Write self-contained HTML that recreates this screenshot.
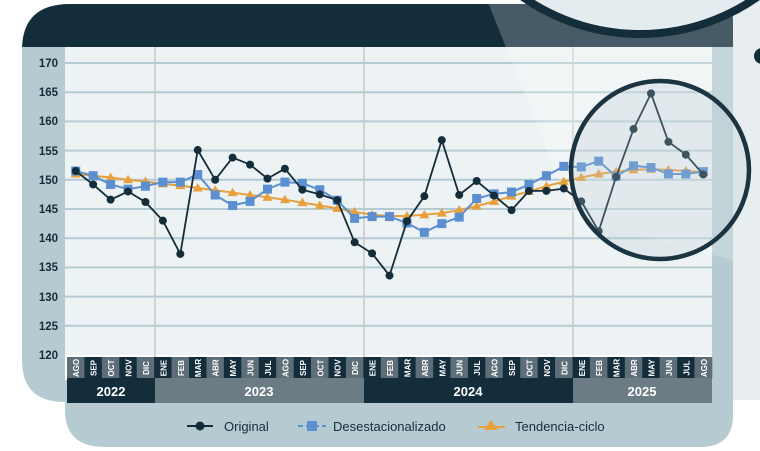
<!DOCTYPE html>
<html><head><meta charset="utf-8"><style>
html,body{margin:0;padding:0;background:#fff;}
svg{display:block;font-family:"Liberation Sans",sans-serif;}
</style></head><body>
<svg width="760" height="451" viewBox="0 0 760 451" xmlns="http://www.w3.org/2000/svg">
<rect x="733" y="0" width="27" height="400" fill="#e8eef0"/>
<path d="M22 402 V50 Q22 4 70 4 H718 Q733 4 733 20 V47 H22 Z" fill="#142d3b"/>
<path d="M22 47 H712 V355 H65 V402 Q22 402 22 360 Z" fill="#b5cbd1"/>
<path d="M65 380 H733 V415 Q733 447 700 447 H105 Q65 447 65 410 Z" fill="#b5cbd1"/>
<rect x="712" y="47" width="21" height="373" fill="#b5cbd1"/>
<rect x="65" y="47" width="647" height="308" fill="#edf2f4"/>
<g stroke="#b5cbd1" stroke-width="2">
<line x1="65" x2="712" y1="63" y2="63"/><line x1="65" x2="712" y1="92.2" y2="92.2"/>
<line x1="65" x2="712" y1="121.4" y2="121.4"/><line x1="65" x2="712" y1="150.6" y2="150.6"/>
<line x1="65" x2="712" y1="179.8" y2="179.8"/><line x1="65" x2="712" y1="209" y2="209"/>
<line x1="65" x2="712" y1="238.2" y2="238.2"/><line x1="65" x2="712" y1="267.4" y2="267.4"/>
<line x1="65" x2="712" y1="296.6" y2="296.6"/><line x1="65" x2="712" y1="325.8" y2="325.8"/>
</g>
<g stroke="#c9c9c9" stroke-width="1.5">
<line x1="155" x2="155" y1="47" y2="357"/><line x1="364" x2="364" y1="47" y2="357"/><line x1="573" x2="573" y1="47" y2="357"/>
</g>
<polygon points="487,0 733,0 733,260 575,220" fill="#ffffff" opacity="0.22"/>
<g font-size="11.5" font-weight="bold" fill="#142d3b" text-anchor="end">
<text x="58" y="67">170</text><text x="58" y="96">165</text><text x="58" y="125">160</text>
<text x="58" y="155">155</text><text x="58" y="184">150</text><text x="58" y="213">145</text>
<text x="58" y="242">140</text><text x="58" y="271">135</text><text x="58" y="301">130</text>
<text x="58" y="330">125</text><text x="58" y="359">120</text>
</g>
<rect x="67" y="378" width="88" height="25" fill="#142d3b"/>
<rect x="155" y="378" width="209" height="25" fill="#6b7c85"/>
<rect x="364" y="378" width="209" height="25" fill="#142d3b"/>
<rect x="573" y="378" width="139" height="25" fill="#6b7c85"/>
<g font-size="13" font-weight="bold" fill="#fff" text-anchor="middle">
<text x="111" y="396">2022</text><text x="259" y="396">2023</text><text x="468" y="396">2024</text><text x="642" y="396">2025</text>
</g>
<g id="months"></g>
<g font-size="13" fill="#142d3b">
<line x1="187" x2="213" y1="426" y2="426" stroke="#142d3b" stroke-width="2"/><circle cx="200" cy="426" r="4.5" fill="#142d3b"/>
<text x="224" y="431">Original</text>
<line x1="298" x2="326" y1="426" y2="426" stroke="#5b8fd0" stroke-width="2" stroke-dasharray="5,3"/><rect x="307" y="421" width="10" height="10" fill="#5b8fd0"/>
<text x="333" y="431">Desestacionalizado</text>
<line x1="478" x2="505" y1="427" y2="427" stroke="#e8a03c" stroke-width="2"/><polygon points="491,420 498,430 484,430" fill="#e8a03c"/>
<text x="515" y="431">Tendencia-ciclo</text>
</g>
<g id="series"></g>
<circle cx="660" cy="170" r="89" fill="#b8c9cf" opacity="0.25"/>
<circle cx="660" cy="170" r="89" fill="none" stroke="#1c3441" stroke-width="4.5"/>
<circle cx="640" cy="-170" r="204" fill="#e3ecef" stroke="#142d3b" stroke-width="8"/>
<circle cx="762" cy="56" r="8" fill="#142d3b"/>
</svg>
<script>
const mo=["AGO","SEP","OCT","NOV","DIC"];
const all=["ENE","FEB","MAR","ABR","MAY","JUN","JUL","AGO","SEP","OCT","NOV","DIC"];
let labs=mo.concat(all,all,all.slice(0,8));
const W=645/37, X=i=>67+W*(i+0.5), Y=v=>355-(v-120)*5.84;
let h="";
labs.forEach((m,i)=>{let x=67+W*i;let c=i%2?"#142d3b":"#5e6e78";
h+=`<rect x="${x}" y="357" width="${W+0.3}" height="21" fill="${c}"/><text transform="translate(${X(i)+3.5},368) rotate(-90)" text-anchor="middle" font-size="8" font-weight="bold" fill="#fff">${m}</text>`;});
document.getElementById("months").innerHTML=h;
const o=[151.5,149.2,146.6,148,146.2,143,137.3,155.1,150,153.8,152.6,150.2,151.9,148.3,147.5,146.5,139.3,137.4,133.6,142.9,147.2,156.8,147.4,149.8,147.3,144.8,148.1,148.1,148.5,146.3,141.2,150.5,158.7,164.8,156.5,154.3,150.9];
const d=[151.5,150.7,149.2,148.4,148.9,149.6,149.6,150.9,147.4,145.6,146.3,148.4,149.6,149.4,148.3,146.5,143.4,143.7,143.7,142.6,141,142.5,143.6,146.8,147.6,147.9,149.2,150.7,152.3,152.2,153.2,150.6,152.4,152.1,151,151,151.4];
const t=[151,150.7,150.4,150,149.7,149.3,149,148.6,148.2,147.8,147.4,147,146.6,146.1,145.6,145.1,144.5,144,143.8,143.8,144,144.3,144.8,145.5,146.3,147.2,148,148.9,149.7,150.4,151,151.4,151.7,151.8,151.7,151.5,151.3];
let s="";
const pts=a=>a.map((v,i)=>X(i).toFixed(1)+","+Y(v).toFixed(1)).join(" ");
s+=`<polyline points="${pts(t)}" fill="none" stroke="#e8a03c" stroke-width="2"/>`;
t.forEach((v,i)=>{let x=X(i),y=Y(v);s+=`<polygon points="${x},${y-5} ${x+5},${y+3.5} ${x-5},${y+3.5}" fill="#e8a03c"/>`;});
s+=`<polyline points="${pts(d)}" fill="none" stroke="#5b8fd0" stroke-width="2"/>`;
d.forEach((v,i)=>{s+=`<rect x="${X(i)-4.5}" y="${Y(v)-4.5}" width="9" height="9" fill="#5b8fd0"/>`;});
s+=`<polyline points="${pts(o)}" fill="none" stroke="#142d3b" stroke-width="1.8"/>`;
o.forEach((v,i)=>{s+=`<circle cx="${X(i)}" cy="${Y(v)}" r="4" fill="#142d3b"/>`;});
document.getElementById("series").innerHTML=s;
</script>
</body></html>
